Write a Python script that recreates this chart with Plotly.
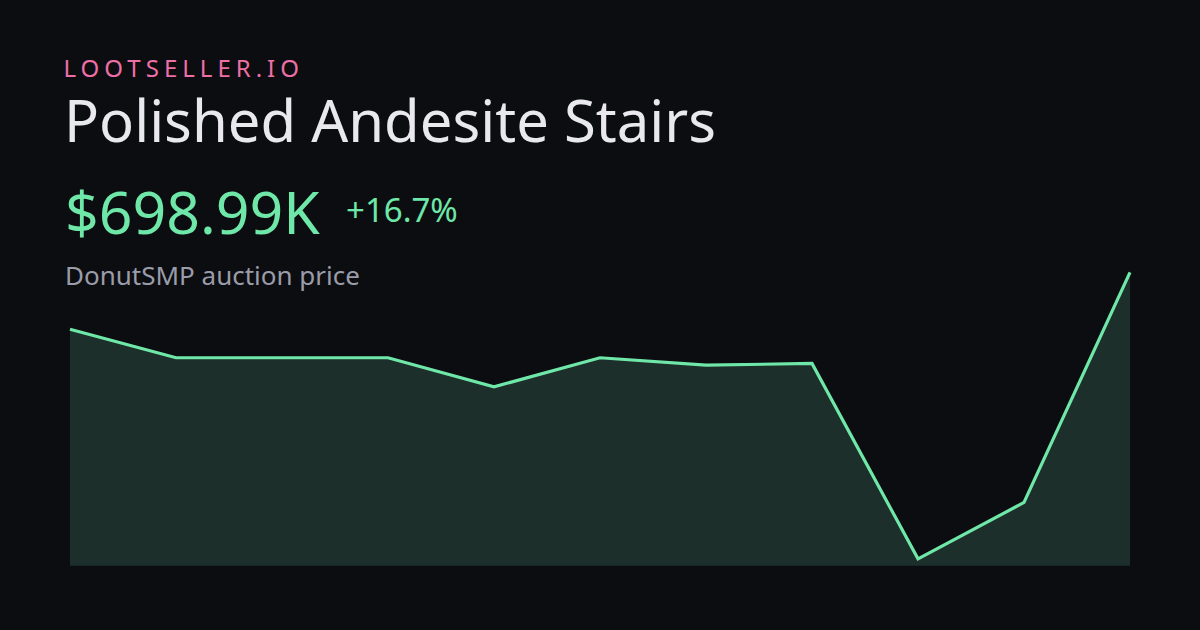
import plotly.graph_objects as go

# ---- data ----
brand = "LOOTSELLER.IO"
item_name = "Polished Andesite Stairs"
price_label = "$698.99K"
change_label = "+16.7%"
subtitle = "DonutSMP auction price"
points = [0, 1, 2, 3, 4, 5, 6, 7, 8, 9, 10]
prices_k = [598.96, 549, 549, 549, 498, 549, 536, 539, 196, 295, 698.99]

# ---- style ----
W, H = 1200, 630
BG = "#0c0d10"
LINE = "#6ee7a8"
FILL = "#1d2f2a"
FONT = "Noto Sans"

fig = go.Figure()
fig.add_trace(go.Scatter(
    x=points, y=prices_k, mode="lines",
    line=dict(color=LINE, width=3.2),
    fill="tozeroy", fillcolor=FILL,
    hoverinfo="skip", showlegend=False,
))

# plot area in pixels
px_left, px_right = 59.4, 1140.6
px_top, px_bottom = 264.9, 565.7

fig.update_layout(
    width=W, height=H,
    paper_bgcolor=BG, plot_bgcolor=BG,
    margin=dict(l=0, r=0, t=0, b=0),
    xaxis=dict(domain=[px_left / W, px_right / W], range=[-0.1, 10.1],
               visible=False, fixedrange=True),
    yaxis=dict(domain=[1 - px_bottom / H, 1 - px_top / H], range=[184, 712],
               visible=False, fixedrange=True),
    font=dict(family=FONT),
)

def ann(text, x, y, size, color):
    fig.add_annotation(
        text=text, x=x / W, y=1 - y / H, xref="paper", yref="paper",
        xanchor="left", yanchor="middle", showarrow=False, borderpad=0,
        font=dict(family=FONT, size=size, color=color),
    )

ann(brand, 95, 67.6, 24, "#ee6fa6")
ann(item_name, 63, 119.2, 58, "#e8e8ee")
ann(price_label, 64, 211.5, 59, "#6ee7a8")
ann(change_label, 345, 209.8, 33, "#6ee7a8")
ann(subtitle, 64, 274.8, 26, "#9a9caa")

post = """
document.documentElement.style.margin = '0';
document.body.style.margin = '0';
document.body.style.background = '#0c0d10';
function ls(){
  document.querySelectorAll('.annotation-text').forEach(function(t){
    if (t.textContent === 'LOOTSELLER.IO') { t.style.letterSpacing = '5px'; }
  });
}
ls();
var gd = document.getElementsByClassName('plotly-graph-div')[0];
if (gd && gd.on) { gd.on('plotly_afterplot', ls); }
"""

fig.write_html("out.html", config={"displayModeBar": False}, post_script=post)
